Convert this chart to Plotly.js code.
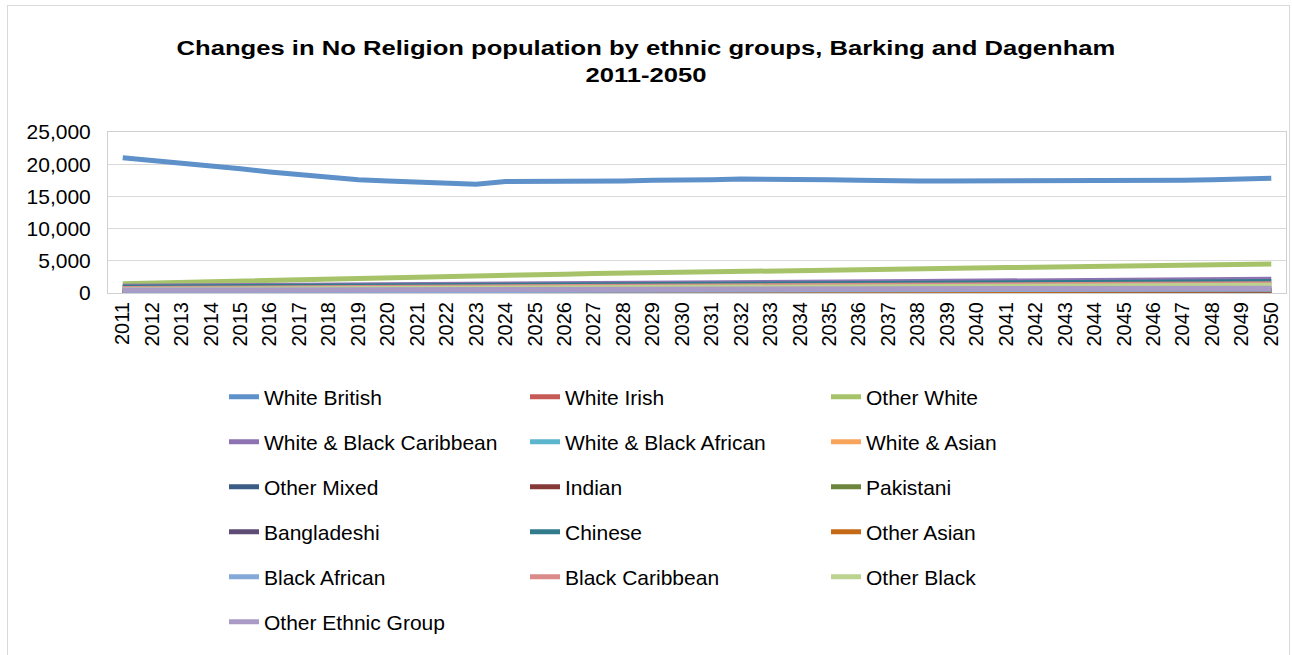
<!DOCTYPE html>
<html>
<head>
<meta charset="utf-8">
<script src="https://cdn.plot.ly/plotly-3.0.1.min.js"></script>
<style>
  html, body { margin: 0; padding: 0; background: #fff; overflow: hidden; }
  #frame { position: absolute; left: 7px; top: 5px; width: 1283px; height: 680px; border: 1px solid #D9D9D9; box-sizing: border-box; }
  #chart { position: absolute; left: 0; top: 0; width: 1292px; height: 655px; }
  #chart .gtitle { transform-box: fill-box; transform-origin: center; transform: scaleX(1.22); }
</style>
</head>
<body>
<div id="frame"></div>
<div id="chart"></div>
<script>
const years = ["2011","2012","2013","2014","2015","2016","2017","2018","2019","2020",
  "2021","2022","2023","2024","2025","2026","2027","2028","2029","2030",
  "2031","2032","2033","2034","2035","2036","2037","2038","2039","2040",
  "2041","2042","2043","2044","2045","2046","2047","2048","2049","2050"];

const seriesNames = ["White British","White Irish","Other White","White & Black Caribbean",
  "White & Black African","White & Asian","Other Mixed","Indian","Pakistani","Bangladeshi",
  "Chinese","Other Asian","Black African","Black Caribbean","Other Black","Other Ethnic Group"];

const whiteBritish = [21000,20600,20100,19700,19300,18800,18400,17900,17600,17400,
  17200,17100,16900,17300,17300,17300,17300,17400,17500,17500,
  17600,17700,17700,17600,17600,17500,17400,17400,17400,17400,
  17400,17400,17400,17400,17400,17500,17500,17600,17700,17800];
const whiteIrish = [250,250,255,260,260,265,270,270,275,280,
  280,285,290,290,295,300,300,305,310,310,
  315,320,320,325,330,330,335,340,340,345,
  345,345,350,350,350,355,355,355,360,360];
const otherWhite = [1450,1560,1670,1780,1890,2000,2100,2200,2300,2400,
  2490,2580,2670,2760,2850,2930,3010,3090,3170,3250,
  3320,3390,3460,3530,3590,3650,3710,3770,3830,3890,
  3950,4010,4070,4130,4190,4250,4310,4380,4440,4500];
const whiteBlackCaribbean = [1050,1070,1090,1110,1130,1150,1170,1190,1210,1240,
  1270,1300,1330,1360,1390,1420,1450,1480,1510,1540,
  1570,1600,1630,1660,1690,1720,1750,1780,1810,1840,
  1870,1900,1930,1960,1990,2020,2050,2080,2110,2150];
const whiteBlackAfrican = [200,205,210,215,220,230,235,240,250,255,
  260,270,275,280,290,295,300,310,315,320,
  330,335,340,350,355,360,370,375,380,390,
  395,400,410,415,420,430,435,440,445,450];
const whiteAsian = [500,520,540,560,580,600,620,640,660,680,
  700,720,740,760,780,800,820,840,860,880,
  900,920,940,960,980,1000,1020,1040,1060,1080,
  1100,1120,1140,1160,1180,1200,1220,1240,1270,1300];
const otherMixed = [350,360,370,380,390,400,410,420,430,440,
  455,465,475,490,500,510,525,535,545,560,
  570,580,595,605,615,630,640,650,665,675,
  685,700,710,720,735,745,755,770,785,800];
const indian = [150,150,155,160,160,165,170,170,175,180,
  180,185,190,190,195,200,200,205,210,210,
  215,220,225,230,235,240,245,250,250,255,
  260,265,270,270,275,280,285,290,295,300];
const pakistani = [100,100,105,105,110,110,115,115,120,120,
  125,125,130,130,135,135,140,140,145,145,
  150,150,155,155,160,160,165,165,170,170,
  175,175,180,180,185,185,190,190,195,200];
const bangladeshi = [80,80,80,85,85,85,90,90,90,90,
  95,95,95,95,100,100,100,100,100,105,
  105,105,105,105,110,110,110,110,110,110,
  115,115,115,115,115,115,120,120,120,120];
const chinese = [900,920,940,960,980,1000,1020,1040,1060,1080,
  1100,1120,1140,1160,1180,1200,1220,1250,1270,1290,
  1310,1340,1360,1380,1410,1430,1450,1480,1500,1520,
  1550,1570,1600,1620,1650,1670,1700,1730,1760,1800];
const otherAsian = [200,205,210,220,225,230,240,245,250,260,
  265,270,280,285,290,300,305,310,320,325,
  330,340,345,350,360,365,370,380,385,390,
  400,405,410,420,425,430,435,440,445,450];
const blackAfrican = [300,310,315,325,330,340,345,355,360,370,
  380,385,395,400,410,415,425,430,440,450,
  455,465,470,480,490,495,505,510,520,530,
  535,545,550,560,565,575,580,590,595,600];
const blackCaribbean = [700,720,740,760,780,800,820,840,860,880,
  900,920,940,955,970,990,1010,1030,1050,1070,
  1090,1110,1130,1150,1170,1190,1210,1230,1250,1270,
  1290,1310,1330,1350,1370,1390,1410,1420,1435,1450];
const otherBlack = [550,565,580,600,615,630,650,665,680,700,
  715,730,750,765,780,800,815,830,850,865,
  880,900,915,930,950,965,980,1000,1015,1030,
  1050,1065,1080,1100,1115,1130,1150,1165,1180,1200];
const otherEthnic = [450,460,465,475,480,490,495,505,510,520,
  525,535,540,550,555,565,570,580,585,595,
  600,610,615,625,630,640,645,655,660,670,
  675,685,690,700,705,715,720,730,740,750];

const seriesValues = [whiteBritish, whiteIrish, otherWhite, whiteBlackCaribbean,
  whiteBlackAfrican, whiteAsian, otherMixed, indian, pakistani, bangladeshi,
  chinese, otherAsian, blackAfrican, blackCaribbean, otherBlack, otherEthnic];

const seriesColors = ["#5E90CA","#C65A57","#A6C36A","#8E73B2",
  "#5BB5CD","#F9A45C","#3A5C85","#853A37","#6C843C","#5E4C75",
  "#327B8C","#C46A17","#84A9D8","#DA8B89","#BCD38F","#A99AC6"];

const FONT = "Liberation Sans, Arial, sans-serif";

const W = 1292, H = 655;
const M = {l: 108, r: 6, t: 132, b: 362};

const traces = seriesNames.map((name, i) => ({
  type: "scatter",
  mode: "lines",
  name: name,
  x: years,
  y: seriesValues[i],
  line: {color: seriesColors[i], width: 5},
  legend: i < 3 ? "legend" : "legend" + (Math.floor(i / 3) + 1),
  hoverinfo: "x+y+name"
}));

const rowCentersPx = [397, 442, 487, 532, 577, 622];

const layout = {
  width: W, height: H,
  margin: M,
  paper_bgcolor: "rgba(0,0,0,0)",
  plot_bgcolor: "#ffffff",
  font: {family: FONT, color: "#000000", size: 20},
  title: {
    text: "Changes in No Religion population by ethnic groups, Barking and Dagenham<br>2011-2050",
    font: {family: FONT, size: 21, weight: "bold", color: "#000000"},
    x: 0.5, xref: "container", xanchor: "center",
    y: 1 - 55 / H, yref: "container", yanchor: "middle"
  },
  xaxis: {
    type: "category",
    tickangle: -90,
    showgrid: false,
    showline: true, mirror: true, linecolor: "#D0D0D0", linewidth: 1,
    ticks: "",
    tickfont: {family: FONT, size: 20, color: "#000000"},
    range: [-0.5, years.length - 0.5],
    fixedrange: true
  },
  yaxis: {
    range: [0, 25000],
    dtick: 5000,
    tickformat: ",d",
    showgrid: true, gridcolor: "#D9D9D9", gridwidth: 1,
    showline: true, mirror: true, linecolor: "#D0D0D0", linewidth: 1,
    zeroline: false,
    ticks: "",
    ticklabelstandoff: 12,
    tickfont: {family: FONT, size: 21, color: "#000000"},
    fixedrange: true
  },
  showlegend: true
};

rowCentersPx.forEach((py, r) => {
  const key = r === 0 ? "legend" : "legend" + (r + 1);
  layout[key] = {
    orientation: "h",
    xref: "container", yref: "container",
    x: 224 / W, xanchor: "left",
    y: 1 - py / H, yanchor: "middle",
    entrywidth: 256,
    entrywidthmode: "pixels",
    bgcolor: "rgba(0,0,0,0)",
    borderwidth: 0,
    font: {family: FONT, size: 21, color: "#000000"},
    traceorder: "normal"
  };
});

Plotly.newPlot("chart", traces, layout, {displayModeBar: false, staticPlot: true});
</script>
</body>
</html>
